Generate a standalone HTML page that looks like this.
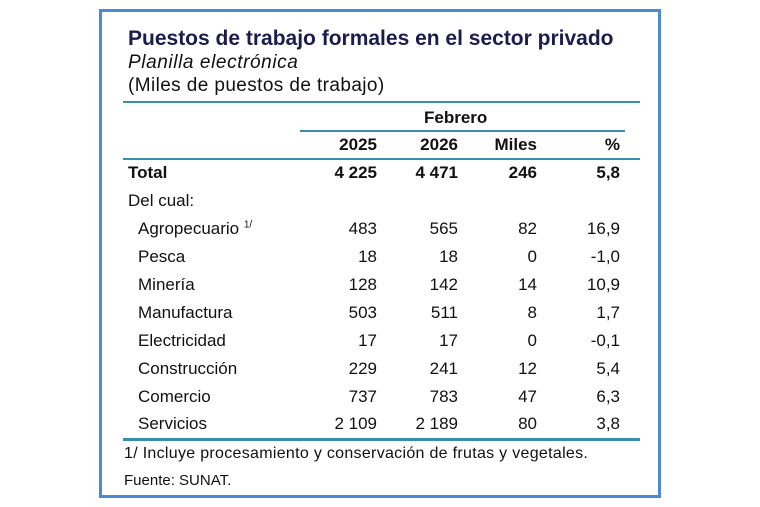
<!DOCTYPE html>
<html><head><style>
body{margin:0;width:760px;height:507px;background:#fff;position:relative;font-family:"Liberation Sans",sans-serif;color:#111}
.box{position:absolute;left:99px;top:9px;width:556px;height:483px;border:3px solid #4a8ad6}
.t{position:absolute;white-space:nowrap}
.r{position:absolute;text-align:right;white-space:nowrap}
.line{position:absolute;height:2px;background:#3a8fa8}
</style></head><body>
<div class="box"></div>
<div class="t" style="left:128px;top:27px;font-size:21px;font-weight:bold;color:#1c1c4e">Puestos de trabajo formales en el sector privado</div>
<div class="t" style="left:128px;top:52px;font-size:19px;font-style:italic;letter-spacing:0.6px">Planilla electrónica</div>
<div class="t" style="left:128px;top:75px;font-size:19px;letter-spacing:0.4px">(Miles de puestos de trabajo)</div>
<div class="line" style="left:123px;top:101px;width:517px"></div>
<div class="t" style="left:424px;top:108px;font-size:17px;font-weight:bold">Febrero</div>
<div class="line" style="left:300px;top:130px;width:325px"></div>
<div class="line" style="left:123px;top:158px;width:517px"></div>
<div class="line" style="left:123px;top:438px;width:517px;height:3px"></div>
<div id="rows"></div>
<div class="t" style="left:124px;top:445px;font-size:16px;letter-spacing:0.3px">1/ Incluye procesamiento y conservación de frutas y vegetales.</div>
<div class="t" style="left:124px;top:472px;font-size:15px">Fuente: SUNAT.</div>
<script>
var d=[["",135,"2025","2026","Miles","%",1,0],
["Total",163,"4 225","4 471","246","5,8",1,128],
["Del cual:",191,"","","","",0,128],
["Agropecuario <sup style='font-size:10px'>1/</sup>",219,"483","565","82","16,9",0,138],
["Pesca",247,"18","18","0","-1,0",0,138],
["Minería",275,"128","142","14","10,9",0,138],
["Manufactura",303,"503","511","8","1,7",0,138],
["Electricidad",331,"17","17","0","-0,1",0,138],
["Construcción",359,"229","241","12","5,4",0,138],
["Comercio",387,"737","783","47","6,3",0,138],
["Servicios",414,"2 109","2 189","80","3,8",0,138]];
var rx=[377,458,537,620],h="";
d.forEach(function(r){var fw=r[6]?"bold":"normal";
if(r[0])h+='<div class="t" style="left:'+r[7]+'px;top:'+r[1]+'px;font-size:17px;font-weight:'+fw+'">'+r[0]+'</div>';
for(var i=0;i<4;i++)h+='<div class="r" style="right:'+(760-rx[i])+'px;top:'+r[1]+'px;font-size:17px;font-weight:'+fw+'">'+r[2+i]+'</div>';});
document.getElementById("rows").innerHTML=h;
</script>
</body></html>
